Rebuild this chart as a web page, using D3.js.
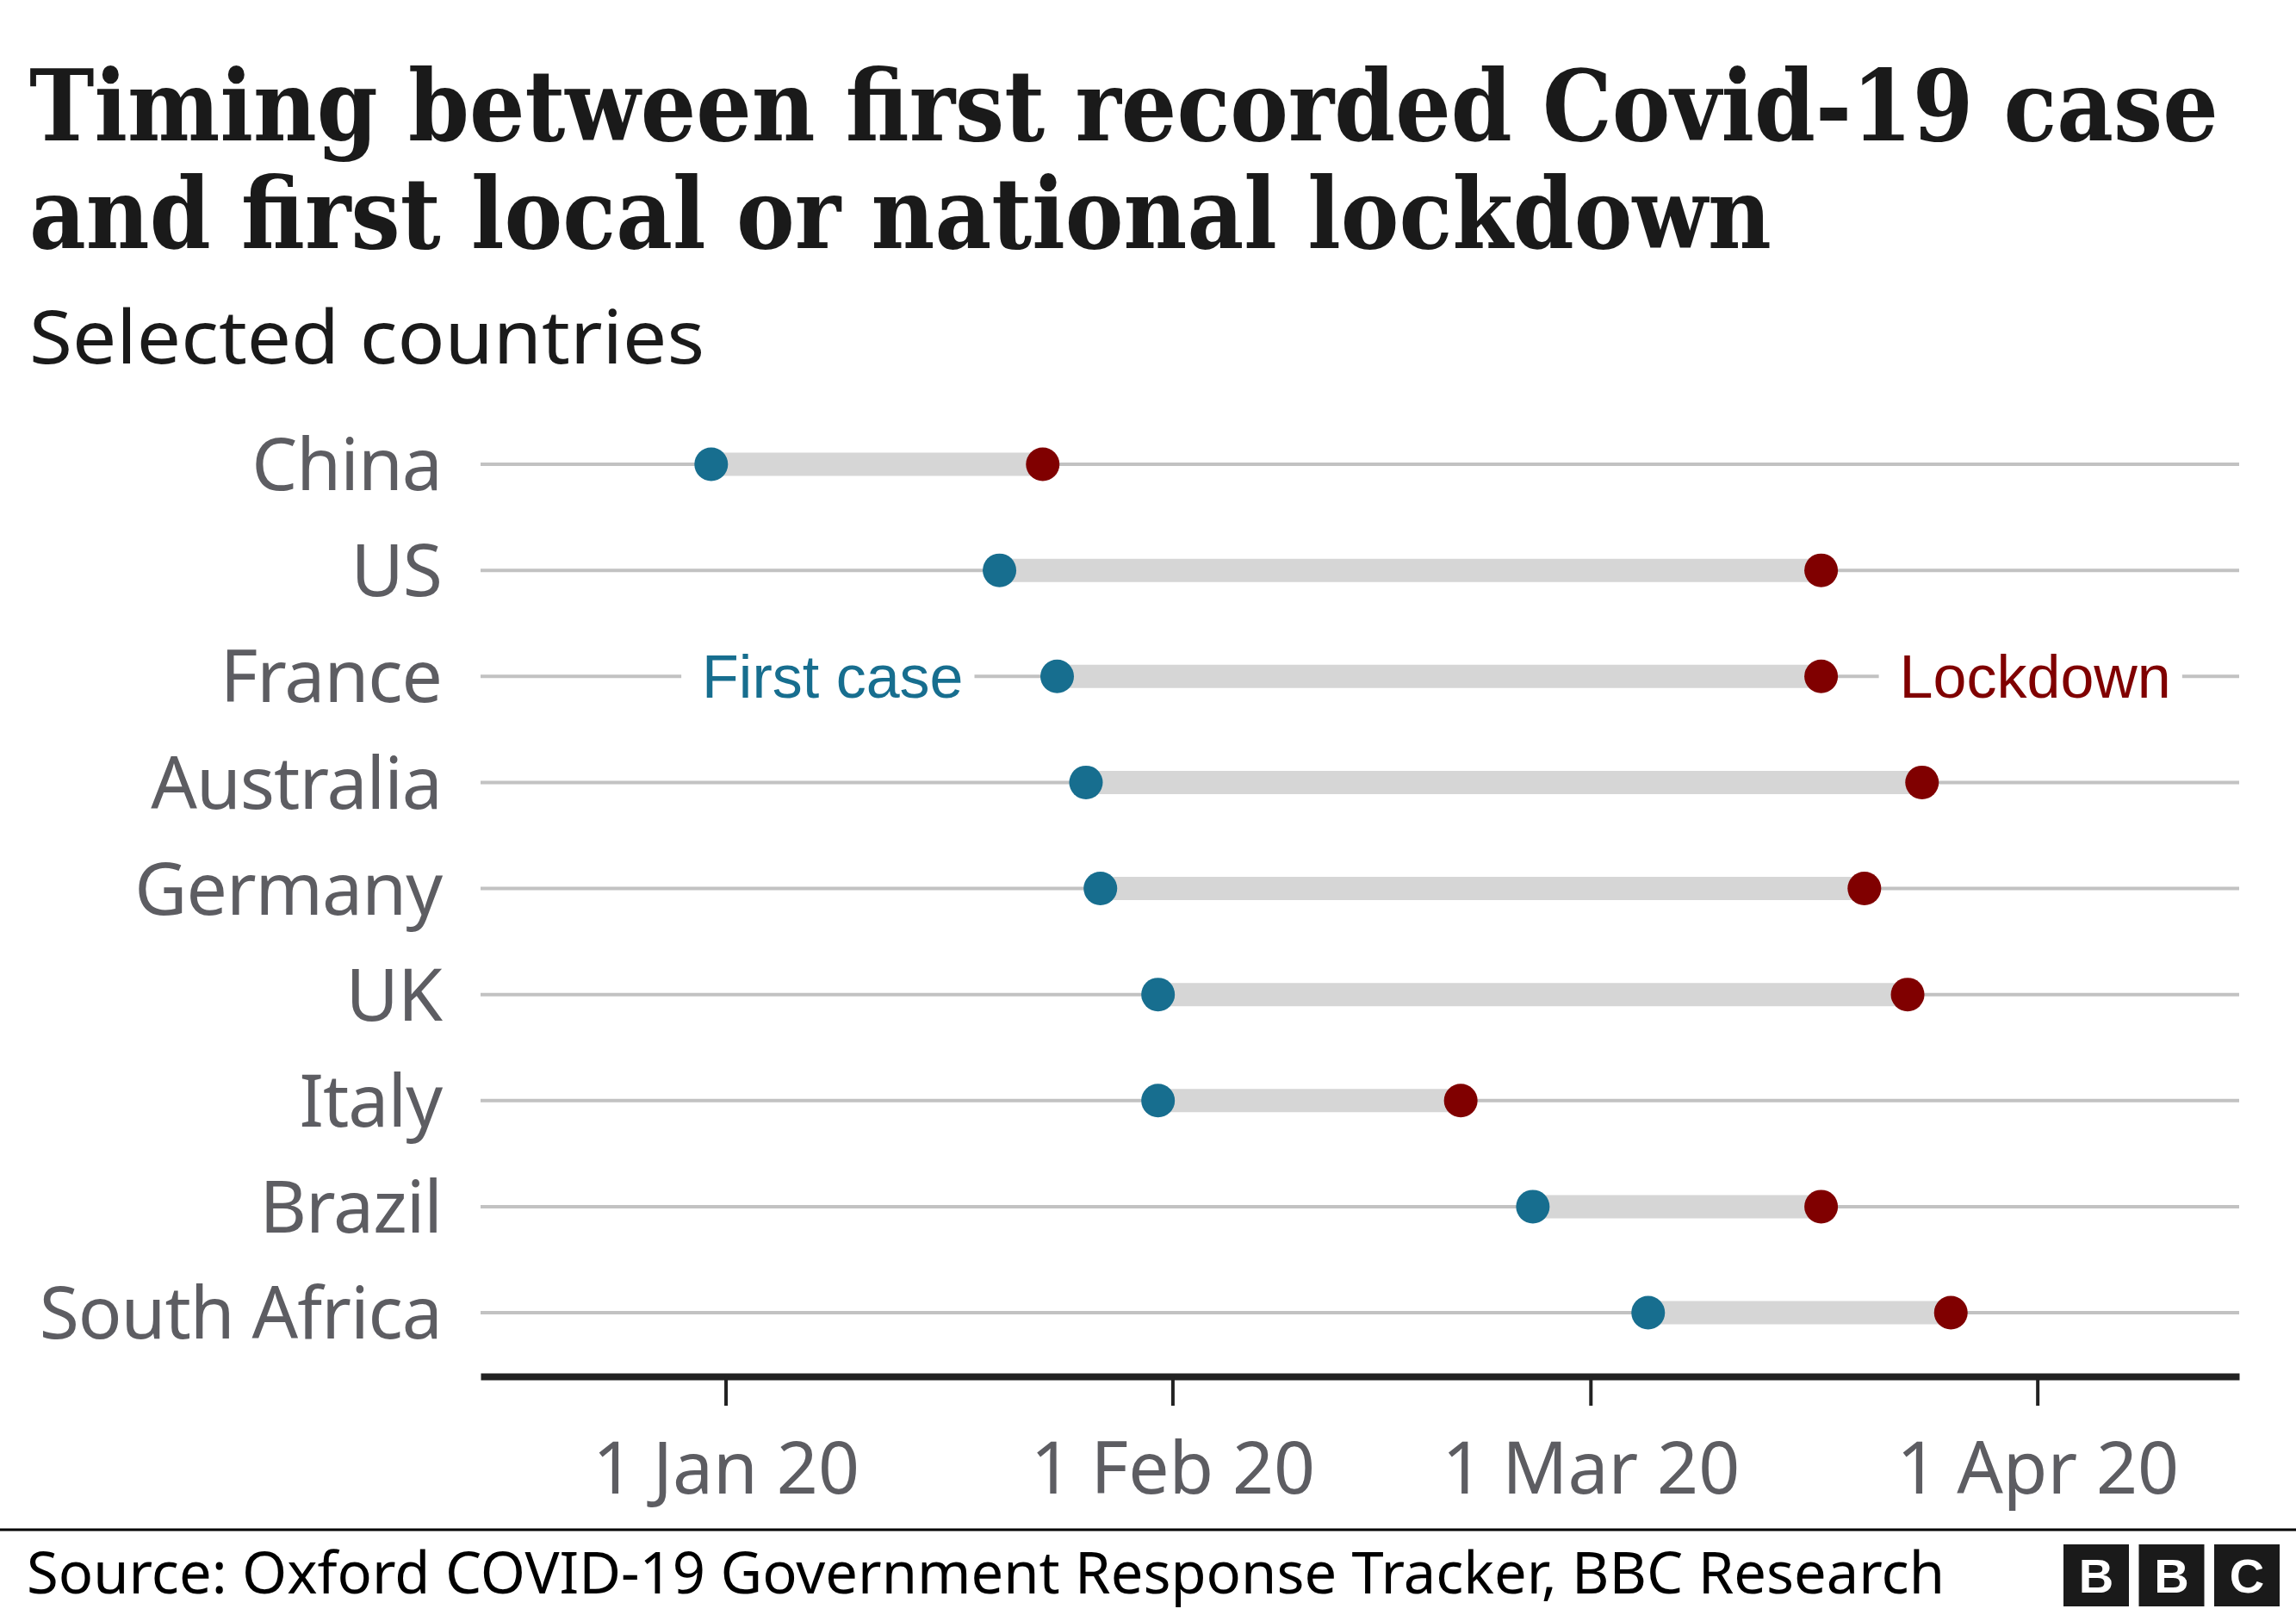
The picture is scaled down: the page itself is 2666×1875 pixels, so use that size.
<!DOCTYPE html>
<html>
<head>
<meta charset="utf-8">
<script src="https://cdn.jsdelivr.net/npm/d3@7"></script>
<style>
  html, body { margin: 0; padding: 0; background: #ffffff; }
  svg { display: block; }
</style>
</head>
<body>
<script>
// ---------------- DATA ----------------
const countries = ["China", "US", "France", "Australia", "Germany", "UK", "Italy", "Brazil", "South Africa"];
const firstCase = ["2019-12-31", "2020-01-20", "2020-01-24", "2020-01-26", "2020-01-27", "2020-01-31", "2020-01-31", "2020-02-26", "2020-03-05"];
const lockdown  = ["2020-01-23", "2020-03-17", "2020-03-17", "2020-03-24", "2020-03-20", "2020-03-23", "2020-02-21", "2020-03-17", "2020-03-26"];
const tickDates = ["2020-01-01", "2020-02-01", "2020-03-01", "2020-04-01"];
const xDomain = ["2019-12-15", "2020-04-15"];
const titleLines = ["Timing between first recorded Covid-19 case", "and first local or national lockdown"];
const subtitle = "Selected countries";
const sourceText = "Source: Oxford COVID-19 Government Response Tracker, BBC Research";
const legendCountry = "France";
const legendFirst = "First case";
const legendLock = "Lockdown";

// ---------------- SETUP ----------------
const W = 2666, H = 1875;
const parse = d3.utcParse("%Y-%m-%d");
const rows = countries.map((c, i) => ({ country: c, first: parse(firstCase[i]), lock: parse(lockdown[i]) }));

const svg = d3.select("body").append("svg").attr("width", W).attr("height", H);
svg.append("rect").attr("width", W).attr("height", H).attr("fill", "#fff");

const x = d3.scaleUtc().domain(xDomain.map(parse)).range([558, 2600]);
const y = d3.scalePoint().domain(countries).range([539, 1524]);

const BLUE = "#176e8f", RED = "#800000", BAR = "#d6d6d6", GRID = "#c2c2c2", LABEL = "#5d5d62";
const SANS = "'Noto Sans', 'Open Sans', sans-serif";

// ---------------- TITLE ----------------
// Serif bold title, horizontally condensed to the reference line widths
const titleWidths = [2542, 2023];
titleLines.forEach((t, i) => {
  const g = svg.append("g");
  const txt = g.append("text")
    .attr("x", 0).attr("y", 0)
    .attr("font-family", "'DejaVu Serif', serif")
    .attr("font-weight", "bold")
    .attr("font-size", 114)
    .attr("fill", "#1a1a1a")
    .text(t);
  const natural = txt.node().getComputedTextLength();
  const sx = titleWidths[i] / natural;
  g.attr("transform", `translate(34,${[163, 288][i]}) scale(${sx},1)`);
});
svg.append("text")
  .attr("x", 34).attr("y", 422)
  .attr("font-family", SANS)
  .attr("font-size", 86)
  .attr("fill", "#1a1a1a")
  .attr("textLength", 784)
  .attr("lengthAdjust", "spacingAndGlyphs")
  .text(subtitle);

// ---------------- GRIDLINES ----------------
const plot = svg.append("g");
plot.selectAll("line.grid").data(rows).join("line")
  .attr("class", "grid")
  .attr("x1", x.range()[0]).attr("x2", x.range()[1])
  .attr("y1", d => y(d.country)).attr("y2", d => y(d.country))
  .attr("stroke", GRID).attr("stroke-width", 4);

// country labels
plot.selectAll("text.country").data(rows).join("text")
  .attr("class", "country")
  .attr("x", 513).attr("y", d => y(d.country))
  .attr("dy", "0.36em")
  .attr("text-anchor", "end")
  .attr("font-family", SANS)
  .attr("font-size", 84)
  .attr("letter-spacing", -1)
  .attr("fill", LABEL)
  .text(d => d.country);

// ---------------- LEGEND LABELS (with white knockout) ----------------
const lr = rows.find(r => r.country === legendCountry);
const legG = svg.append("g");
const tFirst = legG.append("text")
  .attr("x", x(lr.first) - 109).attr("y", y(lr.country)).attr("dy", "0.35em")
  .attr("text-anchor", "end")
  .attr("font-family", "'Liberation Sans', Arial, sans-serif")
  .attr("font-size", 70).attr("fill", BLUE)
  .text(legendFirst);
const tLock = legG.append("text")
  .attr("x", x(lr.lock) + 91).attr("y", y(lr.country)).attr("dy", "0.35em")
  .attr("text-anchor", "start")
  .attr("font-family", "'Liberation Sans', Arial, sans-serif")
  .attr("font-size", 70).attr("fill", RED)
  .text(legendLock);
[tFirst, tLock].forEach(t => {
  const b = t.node().getBBox();
  legG.insert("rect", "text")
    .attr("x", b.x - 24).attr("width", b.width + 37)
    .attr("y", y(lr.country) - 10).attr("height", 20)
    .attr("fill", "#fff");
});

// ---------------- BARS & DOTS ----------------
plot.selectAll("line.bar").data(rows).join("line")
  .attr("class", "bar")
  .attr("x1", d => x(d.first)).attr("x2", d => x(d.lock))
  .attr("y1", d => y(d.country)).attr("y2", d => y(d.country))
  .attr("stroke", BAR).attr("stroke-width", 27);

plot.selectAll("circle.first").data(rows).join("circle")
  .attr("class", "first")
  .attr("cx", d => x(d.first)).attr("cy", d => y(d.country))
  .attr("r", 19.5).attr("fill", BLUE);

plot.selectAll("circle.lock").data(rows).join("circle")
  .attr("class", "lock")
  .attr("cx", d => x(d.lock)).attr("cy", d => y(d.country))
  .attr("r", 19.5).attr("fill", RED);

legG.raise();

// ---------------- AXIS ----------------
const axis = d3.axisBottom(x)
  .tickValues(tickDates.map(parse))
  .tickFormat(d3.utcFormat("%-d %b %y"))
  .tickSize(34)
  .tickSizeOuter(0);
const ax = svg.append("g").attr("transform", "translate(0,1598)").call(axis);
ax.select(".domain").attr("stroke", "#222").attr("stroke-width", 8);
ax.selectAll(".tick line").attr("stroke", "#222").attr("stroke-width", 4);
ax.selectAll(".tick text")
  .attr("y", 136).attr("dy", 0)
  .attr("font-family", SANS)
  .attr("font-size", 84)
  .attr("fill", LABEL);

// ---------------- FOOTER ----------------
svg.append("line")
  .attr("x1", 0).attr("x2", W).attr("y1", 1776).attr("y2", 1776)
  .attr("stroke", "#000").attr("stroke-width", 3);
svg.append("text")
  .attr("x", 31).attr("y", 1850)
  .attr("font-family", SANS)
  .attr("font-size", 67)
  .attr("fill", "#000")
  .attr("textLength", 2227)
  .attr("lengthAdjust", "spacingAndGlyphs")
  .text(sourceText);

const logo = svg.append("g");
["B", "B", "C"].forEach((ch, i) => {
  const bx = 2396 + i * 87.5;
  logo.append("rect").attr("x", bx).attr("y", 1793).attr("width", 76).attr("height", 72).attr("fill", "#1a1a1a");
  logo.append("text").attr("x", bx + 38).attr("y", 1829).attr("dy", "0.36em")
    .attr("text-anchor", "middle")
    .attr("font-family", "'Liberation Sans', Arial, sans-serif")
    .attr("font-weight", "bold")
    .attr("font-size", 56)
    .attr("fill", "#fff")
    .text(ch);
});
</script>
</body>
</html>
